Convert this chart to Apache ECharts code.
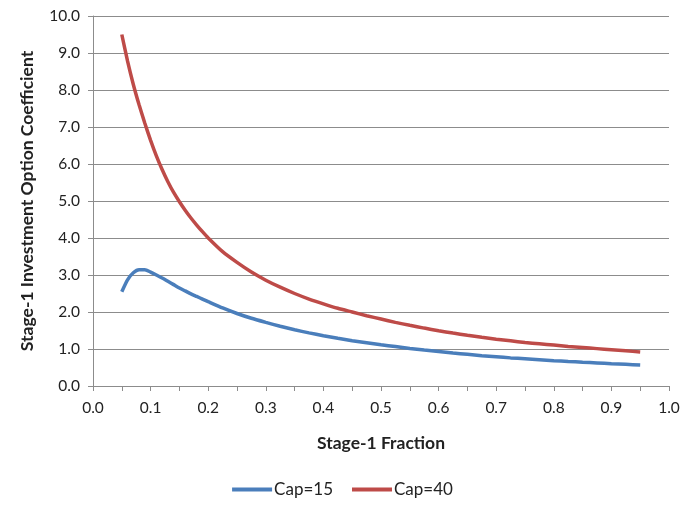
<!DOCTYPE html>
<html lang="en">
<head>
<meta charset="utf-8" />
<script type="text/javascript" src="https://cdn.jsdelivr.net/npm/echarts@6/dist/echarts.min.js"></script>
<style>
	html, body { margin: 0; padding: 0; background: #ffffff; }
	#main { width: 685px; height: 508px; }
</style>
</head>
<body>
<div id="main"></div>
<script type="text/javascript">
	// stage-1 fraction: fine steps over the steep part, then every 0.025
	var fractions = [0.05, 0.06, 0.07, 0.08, 0.09, 0.10, 0.11, 0.12, 0.13, 0.14, 0.15, 0.16, 0.17, 0.18, 0.19, 0.20,
		0.225, 0.25, 0.275, 0.30, 0.325, 0.35, 0.375, 0.40, 0.425, 0.45, 0.475, 0.50, 0.525, 0.55, 0.575, 0.60,
		0.625, 0.65, 0.675, 0.70, 0.725, 0.75, 0.775, 0.80, 0.825, 0.85, 0.875, 0.90, 0.925, 0.95];
	var cap15 = [2.55, 2.87, 3.06, 3.14, 3.14, 3.08, 3.00, 2.92, 2.83, 2.74, 2.65, 2.57, 2.49, 2.42, 2.35, 2.28,
		2.11, 1.96, 1.83, 1.72, 1.615, 1.52, 1.435, 1.36, 1.29, 1.225, 1.17, 1.115, 1.065, 1.015, 0.97, 0.93,
		0.89, 0.855, 0.82, 0.79, 0.76, 0.735, 0.71, 0.685, 0.663, 0.642, 0.622, 0.603, 0.585, 0.567];
	var cap40 = [9.50, 8.78, 8.15, 7.60, 7.10, 6.64, 6.22, 5.85, 5.52, 5.23, 4.98, 4.75, 4.54, 4.35, 4.17, 4.00,
		3.63, 3.34, 3.08, 2.86, 2.67, 2.50, 2.35, 2.22, 2.10, 2.00, 1.90, 1.81, 1.72, 1.64, 1.565, 1.495,
		1.43, 1.37, 1.315, 1.265, 1.22, 1.175, 1.14, 1.105, 1.07, 1.04, 1.01, 0.98, 0.95, 0.92];
	var seriesNames = ['Cap=15', 'Cap=40'];

	function pairs(xs, ys) {
		return xs.map(function (x, i) { return [x, ys[i]]; });
	}

	var font = 'Lato, "Open Sans", sans-serif';
	var chart = echarts.init(document.getElementById('main'));
	chart.setOption({
		animation: false,
		color: ['#4A7EBB', '#BE4B48'],
		grid: { left: 93, right: 16, top: 16, bottom: 122, containLabel: false },
		legend: {
			data: seriesNames,
			bottom: 5,
			left: 'center',
			icon: 'rect',
			itemWidth: 40,
			itemHeight: 4,
			itemGap: 19,
			textStyle: { fontFamily: font, fontSize: 17, color: '#222', padding: [0, 0, 0, -3] }
		},
		xAxis: {
			type: 'value',
			min: 0,
			max: 1,
			interval: 0.05,
			name: 'Stage-1 Fraction',
			nameLocation: 'middle',
			nameGap: 48,
			nameTextStyle: { fontFamily: font, fontSize: 17.5, fontWeight: 'bold', color: '#222' },
			axisLine: { lineStyle: { color: '#8c8c8c', width: 1 } },
			axisTick: { show: true, length: 5, lineStyle: { color: '#8c8c8c' } },
			splitLine: { show: false },
			axisLabel: {
				margin: 14,
				fontFamily: font, fontSize: 15.5, color: '#222',
				formatter: function (v) {
					var k = Math.round(v * 100);
					return k % 10 === 0 ? (k / 100).toFixed(1) : '';
				}
			}
		},
		yAxis: {
			type: 'value',
			min: 0,
			max: 10,
			interval: 1,
			name: 'Stage-1 Investment Option Coefficient',
			nameLocation: 'middle',
			nameGap: 57,
			nameTextStyle: { fontFamily: font, fontSize: 17.5, fontWeight: 'bold', color: '#222' },
			axisLine: { show: true, lineStyle: { color: '#8c8c8c', width: 1 } },
			axisTick: { show: true, length: 5, lineStyle: { color: '#8c8c8c' } },
			splitLine: { show: true, lineStyle: { color: '#8c8c8c', width: 1 } },
			axisLabel: {
				margin: 13,
				fontFamily: font, fontSize: 15.5, color: '#222',
				formatter: function (v) { return v.toFixed(1); }
			}
		},
		series: [
			{
				name: seriesNames[0],
				type: 'line',
				data: pairs(fractions, cap15),
				smooth: 0.2,
				symbol: 'none',
				lineStyle: { width: 3.5 }
			},
			{
				name: seriesNames[1],
				type: 'line',
				data: pairs(fractions, cap40),
				smooth: 0.2,
				symbol: 'none',
				lineStyle: { width: 3.5 }
			}
		]
	});
</script>
</body>
</html>
